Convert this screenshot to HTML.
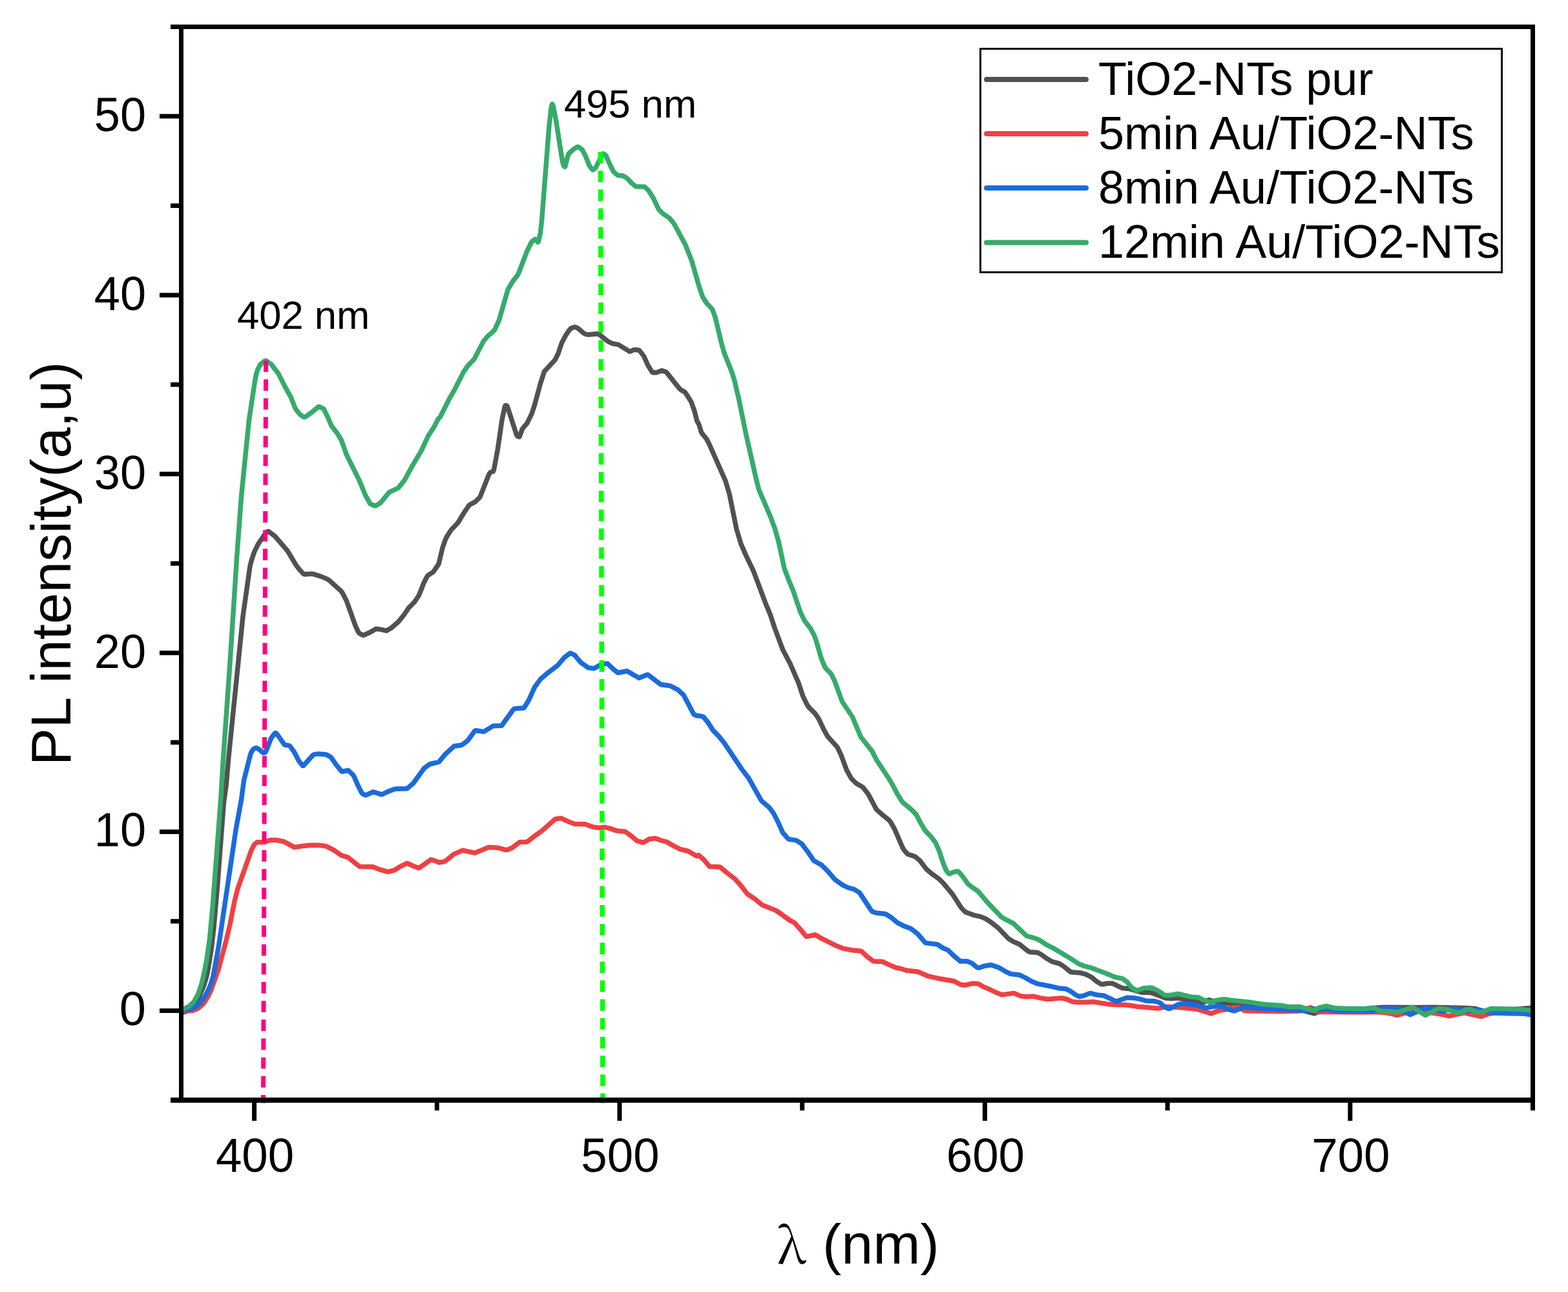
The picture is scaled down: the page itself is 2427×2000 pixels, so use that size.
<!DOCTYPE html>
<html><head><meta charset="utf-8"><title>PL spectra</title><style>html,body{margin:0;padding:0;background:#fff;overflow:hidden}</style></head><body><svg width="2427" height="2000" viewBox="0 0 2427 2000" style="display:block">
<rect x="0" y="0" width="2427" height="2000" fill="#ffffff"/>
<defs><clipPath id="pc"><rect x="284" y="45" width="2085" height="1654"/></clipPath></defs>
<g clip-path="url(#pc)" fill="none" stroke-linejoin="round" stroke-linecap="round">
<path d="M280.0 1567.4 287.5 1566.0 294.5 1561.0 302.5 1551.9 308.0 1543.0 315.0 1527.0 319.0 1514.5 321.0 1506.2 324.0 1488.9 327.5 1466.2 331.0 1435.6 336.5 1372.0 346.5 1241.3 350.0 1216.4 354.0 1171.0 376.0 954.0 387.0 876.2 389.5 866.7 393.5 854.7 399.5 842.3 408.5 829.0 414.0 822.7 415.5 822.5 425.5 830.0 445.0 852.7 457.5 873.7 464.0 882.3 469.5 888.2 471.5 889.1 482.0 888.2 484.0 888.4 497.0 892.4 507.0 896.6 509.5 898.3 527.5 914.5 530.0 917.8 536.5 930.4 550.0 968.3 554.5 978.2 556.5 980.7 561.5 983.2 563.0 983.2 572.5 979.0 582.0 973.5 589.5 974.4 598.0 976.4 606.5 971.4 617.0 962.1 625.5 951.5 632.5 941.2 641.5 931.9 647.0 923.9 649.5 919.1 656.0 902.2 661.0 892.6 663.0 890.2 668.5 886.9 671.0 884.8 679.0 873.1 685.0 847.8 689.5 835.0 691.5 830.8 698.5 820.0 709.0 809.0 717.0 795.5 725.5 782.8 727.0 781.4 735.5 776.9 743.0 769.3 757.0 733.9 759.0 731.2 763.5 729.6 765.0 724.6 770.5 694.6 777.0 650.0 781.5 628.8 782.5 627.6 783.5 627.5 784.5 628.0 785.5 629.7 799.5 673.2 801.0 675.2 803.0 676.2 804.0 676.2 808.5 663.9 816.0 654.8 823.0 640.6 827.5 627.0 836.5 593.6 842.5 575.0 859.0 557.3 864.0 547.3 869.5 530.8 875.5 519.4 879.0 513.9 883.5 508.3 886.0 507.1 890.0 506.3 892.0 506.8 895.5 508.9 903.5 515.8 907.5 517.6 911.0 518.1 924.0 516.8 926.5 517.0 941.0 528.5 947.5 531.7 957.0 533.4 974.5 544.1 976.0 543.9 982.0 541.2 989.5 542.3 996.5 551.2 1003.0 565.8 1009.5 576.3 1011.0 576.8 1016.0 576.7 1024.5 573.6 1031.0 575.7 1052.0 601.8 1054.0 603.6 1060.0 606.9 1062.5 610.2 1070.0 622.4 1075.0 636.6 1079.0 652.3 1081.5 656.1 1086.0 670.1 1093.5 679.3 1098.0 687.9 1123.0 744.6 1129.0 764.8 1140.0 819.0 1147.0 842.3 1155.5 861.7 1166.0 883.4 1185.5 935.3 1192.5 952.0 1199.0 972.0 1212.0 1006.6 1223.0 1027.2 1236.0 1057.2 1243.0 1078.2 1249.5 1091.3 1251.5 1094.3 1261.5 1104.4 1266.0 1110.9 1269.0 1116.2 1274.5 1128.2 1281.0 1139.9 1296.0 1156.5 1301.5 1167.8 1310.5 1192.1 1317.5 1204.8 1325.5 1212.8 1334.5 1218.0 1336.5 1219.7 1344.0 1229.6 1356.5 1252.9 1365.5 1261.1 1376.0 1269.5 1378.0 1271.8 1384.5 1283.0 1397.0 1312.0 1399.0 1315.4 1405.0 1322.2 1415.5 1325.6 1418.0 1327.2 1424.5 1332.9 1433.5 1345.1 1442.0 1352.4 1453.0 1360.2 1460.0 1367.1 1474.5 1384.5 1488.0 1405.5 1494.0 1411.7 1507.0 1416.6 1517.5 1418.9 1526.5 1422.6 1536.0 1429.2 1545.0 1436.4 1561.0 1453.0 1568.0 1457.4 1578.0 1461.7 1592.5 1473.2 1594.5 1473.8 1605.5 1474.6 1607.5 1475.3 1612.0 1477.7 1619.5 1483.2 1628.5 1488.6 1639.5 1491.5 1646.0 1495.6 1657.5 1504.8 1672.5 1506.0 1680.5 1508.1 1689.5 1512.6 1697.5 1519.3 1704.5 1523.6 1706.0 1523.8 1714.5 1522.2 1722.0 1522.3 1737.0 1529.5 1749.0 1530.8 1767.5 1536.3 1777.0 1536.4 1784.5 1537.4 1804.0 1544.9 1813.0 1545.8 1823.0 1545.0 1853.5 1550.2 1862.0 1552.3 1871.0 1547.8 1881.0 1550.4 1920.0 1556.5 1999.0 1559.8 2034.0 1568.9 2053.5 1562.5 2105.0 1562.4 2140.0 1559.2 2191.5 1559.5 2219.0 1559.2 2272.5 1560.5 2284.5 1561.6 2306.0 1568.9 2326.5 1563.8 2374.0 1559.8" stroke="#515151" stroke-width="7.5"/>
<path d="M280.0 1565.1 298.0 1564.5 307.0 1560.8 315.5 1553.0 321.5 1543.2 327.0 1532.2 337.5 1502.4 350.0 1456.4 356.0 1431.0 363.0 1395.1 368.0 1375.6 389.0 1316.2 393.5 1307.5 398.0 1303.7 409.5 1303.8 418.0 1300.4 427.0 1300.3 439.5 1302.8 455.5 1311.6 469.0 1309.5 483.0 1308.3 494.5 1308.4 505.0 1310.0 517.0 1316.2 528.5 1324.1 538.5 1327.1 556.5 1341.4 577.0 1341.8 589.0 1346.4 600.5 1349.6 609.5 1347.4 621.0 1340.6 630.0 1336.3 640.0 1340.7 648.5 1343.7 667.0 1330.6 669.0 1330.9 680.5 1335.2 688.0 1333.6 690.5 1332.2 703.0 1321.9 716.5 1316.3 735.0 1320.4 756.5 1311.5 771.5 1312.5 782.5 1315.6 785.0 1315.5 793.0 1312.3 804.5 1303.5 815.0 1303.3 816.5 1302.8 827.5 1294.1 839.0 1286.0 859.0 1268.3 861.0 1267.5 868.5 1266.6 880.5 1272.2 889.5 1275.5 905.5 1275.7 918.0 1280.3 926.5 1281.4 936.0 1280.4 945.0 1282.6 954.5 1286.0 967.5 1287.2 976.5 1293.6 986.0 1301.7 994.5 1304.2 996.5 1303.9 1005.0 1298.8 1014.5 1297.8 1023.5 1301.0 1032.5 1303.4 1044.0 1310.2 1053.0 1314.6 1065.0 1317.4 1078.5 1325.3 1080.5 1323.9 1081.5 1323.8 1089.0 1330.3 1098.5 1341.6 1113.5 1342.0 1115.5 1342.8 1124.0 1350.1 1138.0 1360.9 1146.5 1370.4 1156.5 1383.6 1169.5 1392.4 1179.0 1400.5 1202.0 1409.9 1222.5 1424.6 1229.5 1428.3 1238.5 1438.2 1247.0 1448.7 1248.5 1449.9 1262.0 1447.0 1272.0 1452.9 1293.0 1463.4 1305.0 1468.3 1319.5 1470.9 1333.0 1472.2 1343.0 1481.5 1352.0 1488.0 1366.0 1488.5 1377.0 1493.9 1387.0 1498.0 1394.0 1499.2 1403.0 1502.2 1421.0 1504.3 1437.0 1511.2 1456.0 1515.3 1476.5 1518.8 1487.5 1524.3 1494.5 1524.9 1505.0 1522.3 1514.5 1523.1 1523.0 1527.9 1532.0 1531.6 1542.0 1536.5 1551.0 1539.9 1569.5 1537.4 1580.5 1542.1 1589.0 1542.9 1599.0 1542.2 1610.0 1544.9 1621.5 1546.7 1642.5 1545.0 1651.5 1546.8 1659.5 1550.5 1668.0 1551.5 1678.0 1551.5 1692.0 1550.7 1715.0 1554.4 1725.5 1555.3 1740.0 1555.6 1748.5 1556.3 1760.5 1558.2 1793.0 1560.9 1806.0 1558.3 1828.5 1559.7 1853.5 1562.3 1874.5 1568.9 1887.0 1564.4 1899.5 1562.5 1909.0 1559.9 1916.5 1559.3 1919.0 1559.6 1925.5 1564.2 1927.5 1564.8 1986.0 1565.8 2012.5 1565.0 2028.5 1559.5 2038.5 1565.8 2040.5 1566.4 2113.0 1567.1 2127.5 1566.5 2141.0 1567.3 2153.0 1569.1 2162.5 1571.6 2187.0 1564.6 2221.0 1568.6 2233.0 1570.5 2243.0 1572.9 2266.5 1567.9 2292.5 1573.6 2303.5 1569.8 2312.5 1567.9 2339.0 1569.1 2358.5 1569.1 2371.5 1562.9 2374.0 1562.5" stroke="#EF4043" stroke-width="7.5"/>
<path d="M280.0 1564.3 292.0 1563.2 299.5 1560.4 303.5 1558.3 310.5 1551.8 319.0 1539.1 323.5 1530.0 326.0 1524.1 330.0 1511.2 338.5 1464.2 365.0 1284.7 373.5 1238.2 377.5 1208.2 387.5 1168.3 389.0 1164.4 392.0 1159.7 395.0 1158.0 397.0 1157.8 401.5 1160.3 407.0 1165.3 408.5 1165.6 410.5 1164.8 412.0 1162.4 419.5 1143.2 424.5 1136.0 426.5 1134.6 428.5 1136.1 440.0 1152.4 441.5 1153.2 447.5 1154.1 449.0 1155.3 455.0 1163.4 462.5 1177.7 468.5 1185.5 470.0 1185.1 484.0 1169.2 486.0 1167.9 492.5 1166.9 505.0 1167.9 511.0 1171.4 513.0 1173.2 520.0 1183.4 528.5 1193.8 530.0 1194.2 539.0 1192.5 546.0 1199.0 548.0 1202.0 554.5 1216.9 559.5 1226.8 561.0 1228.5 565.0 1230.8 567.0 1230.7 577.5 1225.8 591.0 1229.9 602.5 1224.5 611.5 1221.2 630.0 1220.8 639.5 1212.7 656.5 1189.2 665.0 1183.0 679.5 1179.3 689.5 1167.2 703.0 1155.0 714.0 1153.5 716.5 1152.1 724.0 1146.2 735.0 1131.2 736.5 1130.7 749.0 1132.6 763.0 1123.8 776.5 1123.3 795.0 1097.7 797.0 1097.0 810.0 1096.0 811.5 1095.3 818.5 1083.7 827.5 1063.9 836.5 1051.4 850.0 1039.9 863.5 1029.7 873.5 1017.8 881.5 1011.7 883.0 1011.1 889.5 1014.2 899.0 1025.6 910.5 1033.6 919.5 1034.7 931.0 1028.2 940.0 1027.1 950.0 1036.4 956.5 1041.5 970.5 1038.7 989.0 1049.5 1001.5 1044.6 1003.0 1044.6 1023.0 1059.8 1037.0 1061.5 1049.5 1067.9 1058.0 1075.7 1074.0 1105.9 1078.5 1108.0 1082.5 1108.1 1087.5 1109.1 1089.0 1110.0 1096.0 1118.5 1103.5 1130.4 1112.5 1139.6 1121.0 1150.1 1148.5 1191.2 1159.0 1204.8 1178.5 1239.5 1190.5 1249.8 1197.0 1258.4 1204.0 1272.0 1211.5 1288.8 1220.0 1298.6 1222.0 1299.4 1232.0 1300.6 1241.0 1306.2 1250.0 1318.2 1259.5 1332.2 1272.0 1339.3 1280.5 1347.8 1293.0 1362.2 1304.5 1370.1 1312.5 1374.0 1322.0 1376.6 1330.5 1381.9 1347.5 1407.9 1350.0 1411.0 1356.5 1413.3 1369.0 1414.4 1371.5 1415.3 1379.5 1420.3 1389.5 1428.7 1400.0 1433.9 1408.5 1436.7 1412.0 1439.0 1420.5 1445.7 1432.5 1459.6 1451.0 1461.9 1459.5 1467.5 1467.5 1470.9 1477.0 1480.2 1486.5 1488.1 1497.0 1488.0 1504.5 1491.1 1512.0 1497.3 1514.0 1498.1 1517.0 1497.8 1523.0 1495.5 1533.0 1493.8 1535.0 1494.0 1545.5 1497.6 1555.0 1503.1 1564.0 1507.6 1578.5 1509.3 1587.0 1513.5 1596.5 1519.1 1606.0 1522.9 1626.0 1526.7 1638.5 1529.7 1650.0 1530.8 1657.0 1534.3 1665.0 1540.1 1670.5 1542.7 1677.5 1541.3 1686.5 1537.8 1688.5 1537.6 1697.5 1540.1 1709.0 1541.3 1728.0 1550.3 1744.5 1544.2 1756.0 1544.9 1765.5 1546.8 1775.0 1549.5 1786.5 1549.7 1794.5 1552.0 1796.5 1553.1 1802.0 1558.2 1809.0 1561.6 1810.5 1561.4 1824.5 1554.5 1836.0 1553.5 1853.0 1556.2 1866.5 1560.3 1875.0 1558.5 1890.5 1557.3 1901.0 1562.3 1910.0 1564.9 1925.5 1559.2 1946.5 1561.1 1972.5 1561.8 1986.5 1563.1 2025.0 1564.4 2033.0 1561.4 2042.0 1563.7 2053.0 1562.6 2066.0 1564.4 2080.0 1565.1 2126.0 1565.1 2141.0 1560.5 2166.0 1561.8 2182.5 1570.8 2205.0 1561.1 2207.0 1560.6 2219.5 1562.5 2232.5 1565.6 2246.5 1561.2 2259.5 1562.5 2272.5 1565.0 2286.5 1562.6 2312.5 1568.3 2340.0 1567.8 2359.0 1569.1 2374.0 1571.8" stroke="#1A6BDD" stroke-width="7.5"/>
<path d="M280.0 1561.9 286.0 1561.1 293.5 1557.3 300.0 1551.0 306.5 1539.4 311.5 1524.8 316.0 1506.2 320.0 1485.3 324.5 1453.5 329.5 1398.5 342.0 1233.3 345.0 1181.6 356.0 1026.1 366.5 863.7 373.5 768.8 385.5 649.7 394.5 590.2 396.5 580.1 398.5 573.0 403.0 564.0 410.0 558.6 411.0 558.3 412.5 558.7 419.5 563.6 430.5 577.6 441.0 598.4 450.0 614.4 457.0 632.2 464.0 641.2 470.0 645.5 471.5 645.8 473.5 644.7 482.5 638.4 493.0 629.5 495.0 629.8 501.0 632.8 507.0 645.1 513.0 659.1 522.0 670.7 528.5 681.7 536.5 704.2 556.0 743.3 566.0 767.7 573.0 779.9 580.0 783.0 582.5 782.4 589.0 778.3 602.5 761.9 616.5 755.4 626.0 743.4 639.5 718.9 652.5 697.1 662.5 675.3 671.5 661.5 678.5 648.2 681.5 645.1 694.5 619.2 703.0 604.4 717.5 575.9 724.0 566.3 734.0 555.9 748.5 527.9 755.5 519.9 764.0 512.5 766.0 509.8 772.5 495.6 786.0 448.5 793.0 436.4 802.0 424.7 815.5 389.3 822.0 376.0 824.0 373.4 828.0 370.4 829.5 371.1 832.5 374.9 833.5 374.0 836.5 360.0 838.5 342.2 850.0 194.4 853.0 167.9 854.0 162.9 855.0 161.2 856.5 165.2 860.5 185.8 870.5 249.6 872.0 255.4 873.5 258.0 874.5 258.3 875.0 257.4 878.5 242.5 880.5 237.6 887.0 231.7 894.0 227.2 895.5 227.6 899.0 229.9 901.5 232.2 906.5 242.1 912.0 256.0 916.0 261.7 917.5 263.0 919.5 262.0 922.0 259.6 932.0 239.8 933.5 237.9 935.0 238.3 937.5 240.4 938.5 241.9 944.0 254.7 949.0 264.7 950.5 266.6 955.0 270.5 957.0 271.6 963.5 271.9 970.5 275.8 977.5 283.4 984.0 288.7 997.5 289.1 1004.0 295.1 1011.5 307.1 1019.5 324.2 1026.0 330.7 1036.0 337.5 1043.0 345.8 1060.5 378.2 1070.5 403.2 1082.0 443.2 1087.5 459.4 1093.5 469.0 1102.5 478.7 1107.0 491.0 1117.0 532.3 1121.0 546.4 1133.5 578.0 1137.0 589.6 1144.0 619.7 1154.5 671.3 1169.5 737.7 1174.5 757.6 1192.5 799.8 1199.5 818.5 1205.5 840.1 1214.0 879.7 1220.5 897.2 1227.5 914.0 1239.0 947.9 1245.5 961.1 1255.0 973.6 1260.5 984.3 1263.0 990.8 1271.0 1018.5 1276.0 1031.0 1278.0 1034.4 1285.5 1042.0 1287.5 1045.2 1292.5 1055.7 1303.5 1086.0 1319.5 1110.0 1332.5 1141.0 1349.5 1162.3 1357.0 1176.7 1375.5 1204.7 1382.0 1215.6 1389.0 1229.3 1396.0 1240.4 1398.0 1242.7 1409.5 1252.1 1418.0 1260.7 1426.0 1275.7 1432.0 1285.7 1441.5 1295.7 1448.0 1304.3 1454.0 1318.0 1459.5 1334.9 1463.5 1345.1 1465.5 1348.8 1468.5 1352.4 1470.0 1352.7 1475.5 1350.2 1481.0 1348.9 1482.5 1348.8 1483.5 1349.3 1490.5 1357.2 1498.0 1368.1 1505.0 1373.6 1513.5 1379.3 1529.5 1398.1 1550.0 1419.4 1552.5 1421.2 1568.0 1429.1 1589.0 1448.8 1600.5 1451.9 1610.0 1455.8 1619.5 1462.3 1632.0 1468.7 1658.5 1484.6 1669.5 1492.0 1678.5 1495.5 1690.5 1498.7 1712.5 1507.0 1725.5 1512.5 1737.5 1514.9 1744.5 1520.1 1752.5 1529.6 1759.5 1533.2 1761.0 1533.1 1770.0 1529.7 1782.5 1528.9 1792.0 1533.4 1803.5 1540.8 1812.5 1540.2 1823.5 1538.5 1843.5 1543.2 1855.0 1544.0 1863.0 1548.0 1873.0 1551.6 1883.0 1548.4 1894.0 1546.7 1907.0 1548.6 1933.0 1551.2 1959.5 1555.1 1983.0 1556.5 1993.5 1558.5 2012.5 1558.5 2032.5 1564.2 2042.0 1559.9 2052.5 1557.3 2066.0 1560.4 2079.0 1561.1 2113.0 1561.4 2125.0 1560.0 2140.0 1565.7 2153.0 1565.8 2163.0 1567.0 2186.0 1559.4 2188.0 1560.2 2205.0 1570.9 2206.5 1571.4 2224.5 1562.0 2227.0 1561.3 2239.5 1562.5 2252.5 1566.9 2258.5 1567.7 2260.5 1567.2 2270.5 1562.5 2277.0 1562.7 2285.0 1566.6 2287.0 1567.0 2294.0 1566.4 2308.0 1561.2 2352.0 1562.2 2374.0 1565.1" stroke="#36AB6B" stroke-width="7.5"/>
</g>
<line x1="411.6" y1="558.1" x2="407.5" y2="1707.5" stroke="#FF0080" stroke-width="7" stroke-dasharray="17.7 11.45"/>
<line x1="929.5" y1="235" x2="933" y2="1707.5" stroke="#00FF00" stroke-width="7.5" stroke-dasharray="17.9 11.25"/>
<g fill="#000">
<rect x="264" y="38" width="2112" height="7"/>
<rect x="264" y="1699" width="2112" height="8"/>
<rect x="277" y="38" width="7" height="1669"/>
<rect x="2369" y="38" width="7" height="1681"/>
<rect x="264" y="1699.50" width="13" height="7"/>
<rect x="247" y="1561.04" width="30" height="7"/>
<rect x="264" y="1422.58" width="13" height="7"/>
<rect x="247" y="1284.12" width="30" height="7"/>
<rect x="264" y="1145.67" width="13" height="7"/>
<rect x="247" y="1007.21" width="30" height="7"/>
<rect x="264" y="868.75" width="13" height="7"/>
<rect x="247" y="730.29" width="30" height="7"/>
<rect x="264" y="591.83" width="13" height="7"/>
<rect x="247" y="453.38" width="30" height="7"/>
<rect x="264" y="314.92" width="13" height="7"/>
<rect x="247" y="176.46" width="30" height="7"/>
<rect x="264" y="38.00" width="13" height="7"/>
<rect x="390.08" y="1707" width="7" height="28"/>
<rect x="672.78" y="1707" width="7" height="12"/>
<rect x="955.49" y="1707" width="7" height="28"/>
<rect x="1238.19" y="1707" width="7" height="12"/>
<rect x="1520.89" y="1707" width="7" height="28"/>
<rect x="1803.59" y="1707" width="7" height="12"/>
<rect x="2086.30" y="1707" width="7" height="28"/>
<rect x="2369.00" y="1707" width="7" height="12"/>
</g>
<g font-family='"Liberation Sans", Arial, Helvetica, sans-serif' fill="#000">
<text x="226" y="1587.3" font-size="74" text-anchor="end">0</text>
<text x="226" y="1310.4" font-size="74" text-anchor="end" textLength="80.2" lengthAdjust="spacingAndGlyphs">10</text>
<text x="226" y="1033.5" font-size="74" text-anchor="end" textLength="80.2" lengthAdjust="spacingAndGlyphs">20</text>
<text x="226" y="756.6" font-size="74" text-anchor="end" textLength="80.2" lengthAdjust="spacingAndGlyphs">30</text>
<text x="226" y="479.7" font-size="74" text-anchor="end" textLength="80.2" lengthAdjust="spacingAndGlyphs">40</text>
<text x="226" y="202.8" font-size="74" text-anchor="end" textLength="80.2" lengthAdjust="spacingAndGlyphs">50</text>
<text x="394.6" y="1814" font-size="74" text-anchor="middle" textLength="121.3" lengthAdjust="spacingAndGlyphs">400</text>
<text x="960.0" y="1814" font-size="74" text-anchor="middle" textLength="121.3" lengthAdjust="spacingAndGlyphs">500</text>
<text x="1525.4" y="1814" font-size="74" text-anchor="middle" textLength="121.3" lengthAdjust="spacingAndGlyphs">600</text>
<text x="2090.8" y="1814" font-size="74" text-anchor="middle" textLength="121.3" lengthAdjust="spacingAndGlyphs">700</text>
<text transform="translate(109,1185.2) rotate(-90)" font-size="88" textLength="625.3" lengthAdjust="spacingAndGlyphs">PL intensity(a,u)</text>
<text x="1203" y="1955.5" font-size="88"><tspan font-family='"Noto Serif CJK SC", "Liberation Serif", serif' font-size="77">λ</tspan><tspan x="1273">(nm)</tspan></text>
<text x="367" y="509" font-size="61.5">402 nm</text>
<text x="873" y="182" font-size="61.5">495 nm</text>
</g>
<rect x="1517.5" y="75.5" width="807" height="346" fill="none" stroke="#000" stroke-width="3"/>
<line x1="1527" y1="123" x2="1681" y2="123" stroke="#515151" stroke-width="8" stroke-linecap="round"/>
<text x="1700" y="146.5" font-family='"Liberation Sans", Arial, Helvetica, sans-serif' font-size="72">TiO2-NTs pur</text>
<line x1="1527" y1="207" x2="1681" y2="207" stroke="#EF4043" stroke-width="8" stroke-linecap="round"/>
<text x="1700" y="230.5" font-family='"Liberation Sans", Arial, Helvetica, sans-serif' font-size="72">5min Au/TiO2-NTs</text>
<line x1="1527" y1="291" x2="1681" y2="291" stroke="#1A6BDD" stroke-width="8" stroke-linecap="round"/>
<text x="1700" y="314.5" font-family='"Liberation Sans", Arial, Helvetica, sans-serif' font-size="72">8min Au/TiO2-NTs</text>
<line x1="1527" y1="375.4" x2="1681" y2="375.4" stroke="#36AB6B" stroke-width="8" stroke-linecap="round"/>
<text x="1700" y="398.9" font-family='"Liberation Sans", Arial, Helvetica, sans-serif' font-size="72">12min Au/TiO2-NTs</text>
</svg></body></html>
